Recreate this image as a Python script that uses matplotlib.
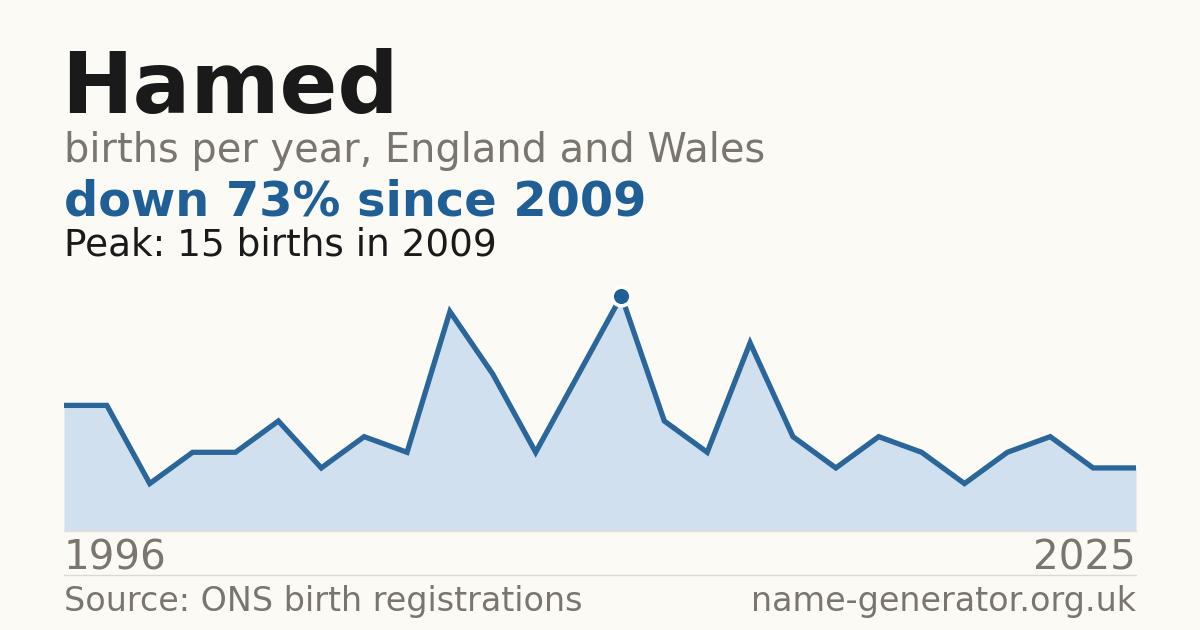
import matplotlib
matplotlib.use("Agg")
import matplotlib.pyplot as plt
import numpy as np

# Data
births = [8, 8, 3, 5, 5, 7, 4, 6, 5, 14, 10, 5, 10, 15, 7, 5, 12, 6, 4, 6, 5, 3, 5, 6, 4, 4]
tick_labels = ["1996", "2025"]
peak_value = 15
peak_index = 13

BG = "#fbfaf5"
BLUE = "#1f5f96"
LINE = "#2a6699"
FILL = "#d0e0ef"
GRAY = "#7a766e"
DARK = "#1a1a1a"

plt.rcParams['font.family'] = ['DejaVu Sans']

W, H = 1200, 630
fig = plt.figure(figsize=(12, 6.3), dpi=100, facecolor=BG)

def fy(px):
    return 1 - px / H

ax_left = 64 / W
ax_right = 1136 / W
ax_bottom = fy(530.5)
ymax = 16
ax_top_px = 530.5 - ymax * 15.64
ax = fig.add_axes([ax_left, ax_bottom, ax_right - ax_left, fy(ax_top_px) - ax_bottom])
ax.set_facecolor(BG)
x = np.arange(len(births))
ax.fill_between(x, births, 0, color=FILL, lw=0)
ax.plot(x, births, color=LINE, lw=3.8, solid_joinstyle='miter', solid_capstyle='butt')
ax.plot([peak_index], [peak_value], 'o', ms=13.5, color=BLUE, mec='white', mew=2.6, zorder=5)
ax.set_xlim(0, len(births) - 1)
ax.set_ylim(0, ymax)
ax.axis('off')

# baseline and separator
fig.add_artist(plt.Line2D([ax_left, ax_right], [fy(530.5), fy(530.5)], color="#e6ded2", lw=1))
fig.add_artist(plt.Line2D([ax_left, ax_right], [fy(574.5), fy(574.5)], color="#dcd9d2", lw=1))

# texts
fig.text(ax_left - 0.002, fy(113), "Hamed", fontsize=61.6, fontweight='bold', color=DARK, va='baseline', ha='left')
fig.text(ax_left, fy(162), "births per year, England and Wales", fontsize=28.7, color=GRAY, va='baseline', ha='left')
fig.text(ax_left, fy(215), "down 73% since 2009", fontsize=34.5, fontweight='bold', color=BLUE, va='baseline', ha='left')
fig.text(ax_left, fy(255), "Peak: 15 births in 2009", fontsize=26.9, color=DARK, va='baseline', ha='left')

fig.text(ax_left, fy(570), tick_labels[0], fontsize=29.1, color=GRAY, va='baseline', ha='left')
fig.text(ax_right, fy(570), tick_labels[1], fontsize=29.1, color=GRAY, va='baseline', ha='right')

fig.text(ax_left, fy(611), "Source: ONS birth registrations", fontsize=24.0, color=GRAY, va='baseline', ha='left')
fig.text(ax_right, fy(611), "name-generator.org.uk", fontsize=24.0, color=GRAY, va='baseline', ha='right')

fig.savefig("out.png", dpi=100, facecolor=BG)
